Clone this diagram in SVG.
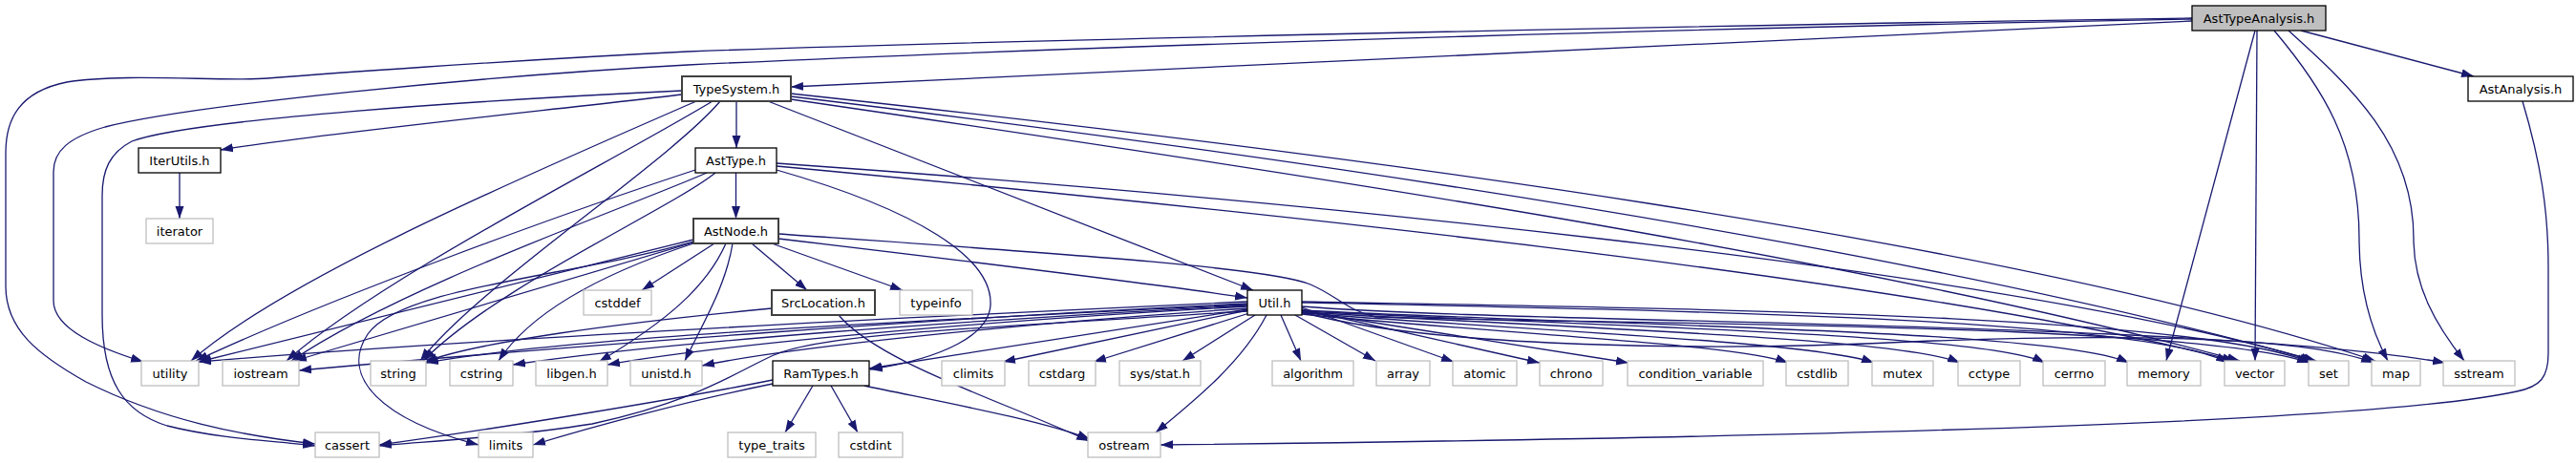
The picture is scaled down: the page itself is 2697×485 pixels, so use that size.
<svg xmlns="http://www.w3.org/2000/svg" width="2697" height="485" viewBox="0 0 2697 485">
<style>
.n rect{fill:#fff;stroke:#000;stroke-width:1.3}
.n.g rect{stroke:#404040;stroke-width:2}
.n.x rect{stroke:#bfbfbf}
.n.r rect{fill:#bfbfbf}
.n text{font-family:"DejaVu Sans",sans-serif;font-size:13px;text-anchor:middle;fill:#000}
#edges path{fill:none;stroke:#191970;stroke-width:1.3;marker-end:url(#a)}
</style>
<defs>
<marker id="a" markerUnits="userSpaceOnUse" markerWidth="14" markerHeight="10" refX="13" refY="5" orient="auto" viewBox="0 0 14 10">
<path d="M0,0.5 L13,5 L0,9.5 z" fill="#191970"/>
</marker>
</defs>
<rect width="2697" height="485" fill="#fff"/>
<g id="edges">
<path d="M2295,22 L828,91"/>
<path d="M2295,19 C1900,25 1100,40 720,54 C520,64 330,78 280,82 C240,86 130,76 70,86 C20,96 6,125 6,160 L6,300 C6,345 40,372 90,400 C170,440 250,456 330,465"/>
<path d="M2295,20 C1900,27 1200,45 720,68 C500,80 200,110 110,133 C72,144 56,158 56,180 L56,315 C56,345 105,365 150,379"/>
<path d="M2409,32 L2590,80"/>
<path d="M2361,32 L2268,378"/>
<path d="M2363,32 L2361,378"/>
<path d="M2381,32 C2430,90 2470,150 2470,250 C2470,310 2485,350 2500,378"/>
<path d="M2396,32 C2460,90 2527,150 2527,250 C2527,300 2550,340 2580,378"/>
<path d="M2641,106 C2660,170 2668,220 2668,280 L2668,370 C2668,395 2660,405 2635,410 C2500,440 2000,457 1215,466"/>
<path d="M714,99 C600,113 330,140 231,157"/>
<path d="M714,95 C500,105 200,125 138,148 C115,160 107,178 107,205 L107,330 C107,400 130,432 175,446 C230,460 290,462 330,467"/>
<path d="M729,106 C560,180 300,290 200,378"/>
<path d="M746,106 C640,170 400,290 300,378"/>
<path d="M754,106 C700,170 500,300 440,378"/>
<path d="M771,106 L771,155"/>
<path d="M804,106 L1312,304"/>
<path d="M828,98 C1400,160 2100,250 2487,378"/>
<path d="M828,101 C1400,170 2000,260 2425,378"/>
<path d="M828,104 C1350,180 1950,270 2345,378"/>
<path d="M188,181 L188,229"/>
<path d="M770.5,181 L770.5,229"/>
<path d="M728,178 C600,220 350,310 205,378"/>
<path d="M740,181 C650,220 420,300 305,378"/>
<path d="M749,181 C700,220 520,300 443,378"/>
<path d="M813,178 C960,220 1040,270 1037,320 C1035,350 990,375 911,387"/>
<path d="M813,171 C1300,205 2100,280 2422,378"/>
<path d="M813,174 C1250,215 2000,290 2340,378"/>
<path d="M748,255 L672,304"/>
<path d="M787,255 L845,304"/>
<path d="M808,255 L945,304"/>
<path d="M815,250 C1000,272 1200,296 1306,312"/>
<path d="M815,245 C1100,265 1330,280 1372,298 C1400,310 1410,325 1440,332 C1700,340 2300,338 2418,380"/>
<path d="M726,251 L208,379"/>
<path d="M726,254 L308,378"/>
<path d="M726,253 C600,290 420,300 385,350 C355,395 400,440 501,466"/>
<path d="M726,255 C650,280 560,320 522,378"/>
<path d="M760,255 C740,300 700,335 627,379"/>
<path d="M767,255 C760,300 735,340 717,378"/>
<path d="M808,323 C650,338 500,358 445,379"/>
<path d="M878,330 C920,380 1050,420 1140,462"/>
<path d="M809,398 C700,420 500,452 397,466"/>
<path d="M809,402 C720,420 620,447 558,466"/>
<path d="M851,404 L822,453"/>
<path d="M870,404 L898,453"/>
<path d="M905,404 C980,420 1090,440 1141,460"/>
<path d="M1306,316 C1000,330 500,355 208,379"/>
<path d="M1306,318 C1000,332 600,362 313,388"/>
<path d="M1306,319 C1000,334 600,352 446,380"/>
<path d="M1306,320 C1000,336 700,358 537,382"/>
<path d="M1306,321 C1000,338 750,362 636,382"/>
<path d="M1306,323 C1050,340 820,365 735,383"/>
<path d="M1306,324 L910,386"/>
<path d="M1306,326 C1000,345 860,350 810,372 C770,390 730,420 620,444 C520,460 430,463 397,467"/>
<path d="M1306,325 L1050,379"/>
<path d="M1308,328 L1145,379"/>
<path d="M1314,330 L1238,378"/>
<path d="M1326,330 C1300,380 1250,420 1210,453"/>
<path d="M1341,330 L1362,378"/>
<path d="M1356,330 L1440,378"/>
<path d="M1363,322 L1522,379"/>
<path d="M1363,324 L1612,380"/>
<path d="M1363,326 L1705,380"/>
<path d="M1363,329 C1550,348 1820,360 1872,380"/>
<path d="M1363,328 C1600,346 1900,358 1962,380"/>
<path d="M1363,327 C1650,344 1990,354 2052,380"/>
<path d="M1363,326 C1700,343 2080,350 2141,380"/>
<path d="M1363,325 C1700,342 2150,345 2229,380"/>
<path d="M1363,317 C1800,326 2250,335 2333,380"/>
<path d="M1363,316 C1800,324 2300,330 2420,380"/>
<path d="M1363,327 C1500,365 1800,368 2000,358 C2250,348 2420,355 2485,380"/>
<path d="M1363,321 C1600,340 2300,335 2560,380"/>
</g>
<g id="AstTypeAnalysis" class="n r"><rect x="2295" y="6" width="140" height="26"/><text x="2365" y="23.5">AstTypeAnalysis.h</text></g>
<g id="TypeSystem" class="n g"><rect x="714" y="80" width="114" height="26"/><text x="771" y="97.5">TypeSystem.h</text></g>
<g id="AstAnalysis" class="n"><rect x="2584" y="80" width="110" height="26"/><text x="2639" y="97.5">AstAnalysis.h</text></g>
<g id="IterUtils" class="n"><rect x="145" y="155" width="86" height="26"/><text x="188" y="172.5">IterUtils.h</text></g>
<g id="AstType" class="n"><rect x="728" y="155" width="85" height="26"/><text x="770.5" y="172.5">AstType.h</text></g>
<g id="iterator" class="n x"><rect x="153" y="229" width="70" height="26"/><text x="188" y="246.5">iterator</text></g>
<g id="AstNode" class="n g"><rect x="726" y="229" width="89" height="26"/><text x="770.5" y="246.5">AstNode.h</text></g>
<g id="cstddef" class="n x"><rect x="611" y="304" width="71" height="26"/><text x="646.5" y="321.5">cstddef</text></g>
<g id="SrcLocation" class="n g"><rect x="808" y="304" width="108" height="26"/><text x="862" y="321.5">SrcLocation.h</text></g>
<g id="typeinfo" class="n x"><rect x="942" y="304" width="76" height="26"/><text x="980" y="321.5">typeinfo</text></g>
<g id="Util" class="n"><rect x="1306" y="304" width="57" height="26"/><text x="1334.5" y="321.5">Util.h</text></g>
<g id="utility" class="n x"><rect x="148" y="378" width="60" height="26"/><text x="178" y="395.5">utility</text></g>
<g id="iostream" class="n x"><rect x="233" y="378" width="80" height="26"/><text x="273" y="395.5">iostream</text></g>
<g id="string" class="n x"><rect x="388" y="378" width="58" height="26"/><text x="417" y="395.5">string</text></g>
<g id="cstring" class="n x"><rect x="471" y="378" width="66" height="26"/><text x="504" y="395.5">cstring</text></g>
<g id="libgen" class="n x"><rect x="561" y="378" width="75" height="26"/><text x="598.5" y="395.5">libgen.h</text></g>
<g id="unistd" class="n x"><rect x="660" y="378" width="75" height="26"/><text x="697.5" y="395.5">unistd.h</text></g>
<g id="RamTypes" class="n"><rect x="809" y="378" width="101" height="26"/><text x="859.5" y="395.5">RamTypes.h</text></g>
<g id="climits" class="n x"><rect x="986" y="378" width="66" height="26"/><text x="1019" y="395.5">climits</text></g>
<g id="cstdarg" class="n x"><rect x="1077" y="378" width="70" height="26"/><text x="1112" y="395.5">cstdarg</text></g>
<g id="sysstat" class="n x"><rect x="1172" y="378" width="85" height="26"/><text x="1214.5" y="395.5">sys/stat.h</text></g>
<g id="algorithm" class="n x"><rect x="1332" y="378" width="85" height="26"/><text x="1374.5" y="395.5">algorithm</text></g>
<g id="array" class="n x"><rect x="1441" y="378" width="56" height="26"/><text x="1469" y="395.5">array</text></g>
<g id="atomic" class="n x"><rect x="1521" y="378" width="67" height="26"/><text x="1554.5" y="395.5">atomic</text></g>
<g id="chrono" class="n x"><rect x="1612" y="378" width="66" height="26"/><text x="1645" y="395.5">chrono</text></g>
<g id="condition_variable" class="n x"><rect x="1704" y="378" width="142" height="26"/><text x="1775" y="395.5">condition_variable</text></g>
<g id="cstdlib" class="n x"><rect x="1870" y="378" width="65" height="26"/><text x="1902.5" y="395.5">cstdlib</text></g>
<g id="mutex" class="n x"><rect x="1960" y="378" width="64" height="26"/><text x="1992" y="395.5">mutex</text></g>
<g id="cctype" class="n x"><rect x="2050" y="378" width="65" height="26"/><text x="2082.5" y="395.5">cctype</text></g>
<g id="cerrno" class="n x"><rect x="2139" y="378" width="65" height="26"/><text x="2171.5" y="395.5">cerrno</text></g>
<g id="memory" class="n x"><rect x="2227" y="378" width="77" height="26"/><text x="2265.5" y="395.5">memory</text></g>
<g id="vector" class="n x"><rect x="2329" y="378" width="63" height="26"/><text x="2360.5" y="395.5">vector</text></g>
<g id="set" class="n x"><rect x="2417" y="378" width="42" height="26"/><text x="2438" y="395.5">set</text></g>
<g id="map" class="n x"><rect x="2483" y="378" width="51" height="26"/><text x="2508.5" y="395.5">map</text></g>
<g id="sstream" class="n x"><rect x="2558" y="378" width="75" height="26"/><text x="2595.5" y="395.5">sstream</text></g>
<g id="cassert" class="n x"><rect x="330" y="453" width="67" height="26"/><text x="363.5" y="470.5">cassert</text></g>
<g id="limits" class="n x"><rect x="501" y="453" width="57" height="26"/><text x="529.5" y="470.5">limits</text></g>
<g id="type_traits" class="n x"><rect x="762" y="453" width="92" height="26"/><text x="808" y="470.5">type_traits</text></g>
<g id="cstdint" class="n x"><rect x="878" y="453" width="67" height="26"/><text x="911.5" y="470.5">cstdint</text></g>
<g id="ostream" class="n x"><rect x="1139" y="453" width="76" height="26"/><text x="1177" y="470.5">ostream</text></g>
</svg>
